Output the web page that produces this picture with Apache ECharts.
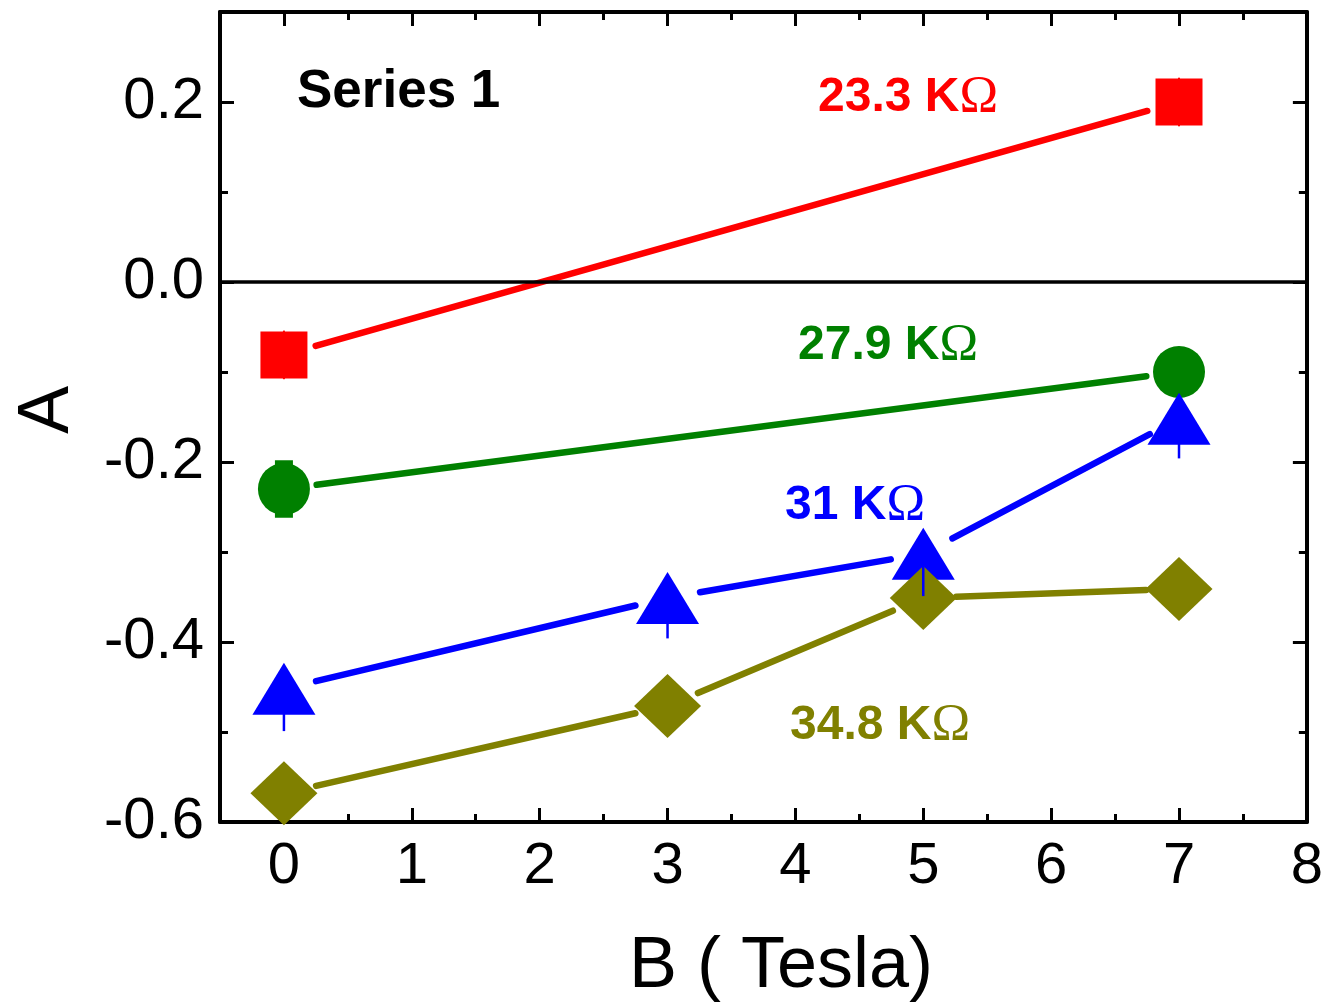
<!DOCTYPE html>
<html>
<head>
<meta charset="utf-8">
<script src="https://cdn.jsdelivr.net/npm/echarts@6/dist/echarts.min.js"></script>
<style>html,body{margin:0;padding:0;background:#fff}#c{width:1326px;height:1005px}</style>
</head>
<body>
<div id="c"></div>
<script>
// ---- data ----
const redX = [0, 7];
const redY = [-0.081, 0.200];
const redErr = [0.027, 0.027];
const greenX = [0, 7];
const greenY = [-0.230, -0.100];
const greenErr = [0.032, 0.025];
const blueX = [0, 3, 5, 7];
const blueY = [-0.452, -0.351, -0.302, -0.152];
const blueErrDown = [0.047, 0.045, 0.047, 0.044];
const oliveX = [0, 3, 5, 7];
const oliveY = [-0.568, -0.471, -0.351, -0.341];
const oliveErr = [0.02, 0.02, 0.02, 0.02];
const xTicks = [0, 1, 2, 3, 4, 5, 6, 7, 8];
const xMinorTicks = [0.5, 1.5, 2.5, 3.5, 4.5, 5.5, 6.5, 7.5];
const yTicks = [-0.6, -0.4, -0.2, 0.0, 0.2];
const yMinorTicks = [-0.5, -0.3, -0.1, 0.1];
const seriesLabels = ['23.3 K', '27.9 K', '31 K', '34.8 K'];
const panelLabel = 'Series 1';
const xTitle = 'B ( Tesla)';
const yTitle = 'A';

const RED = '#ff0000', GREEN = '#008000', BLUE = '#0000ff', OLIVE = '#808000';
const FONT = '"Liberation Sans", Arial, sans-serif';

function pts(xs, ys) { return xs.map((x, i) => [x, ys[i]]); }
function segs(xs, ys) {
  const out = [];
  for (let i = 1; i < xs.length; i++) out.push([xs[i - 1], ys[i - 1], xs[i], ys[i]]);
  return out;
}

function lineSeries(xs, ys, color) {
  return {
    type: 'custom', xAxisIndex: 0, yAxisIndex: 0, z: 2,
    encode: { x: [0, 2], y: [1, 3] },
    data: segs(xs, ys),
    renderItem: function (params, api) {
      const p0 = api.coord([api.value(0), api.value(1)]);
      const p1 = api.coord([api.value(2), api.value(3)]);
      const dx = p1[0] - p0[0], dy = p1[1] - p0[1];
      const len = Math.sqrt(dx * dx + dy * dy);
      const ux = dx / len, uy = dy / len, gap = 33;
      return {
        type: 'line',
        shape: { x1: p0[0] + ux * gap, y1: p0[1] + uy * gap, x2: p1[0] - ux * gap, y2: p1[1] - uy * gap },
        style: { stroke: color, lineWidth: 6.5, lineCap: 'round' }
      };
    }
  };
}
// error bar: [x, y, errUp, errDown]
function errSeries(xs, ys, up, down, color, w, z) {
  return {
    type: 'custom', xAxisIndex: 0, yAxisIndex: 0, z: z,
    encode: { x: 0, y: 1 },
    data: xs.map((x, i) => [x, ys[i], up ? up[i] : 0, down[i]]),
    renderItem: function (params, api) {
      const top = api.coord([api.value(0), api.value(1) + api.value(2)]);
      const bot = api.coord([api.value(0), api.value(1) - api.value(3)]);
      return {
        type: 'rect',
        shape: { x: top[0] - w / 2, y: top[1], width: w, height: bot[1] - top[1] },
        style: { fill: color }
      };
    }
  };
}
function markSeries(xs, ys, color, symbol, size, z) {
  return {
    type: 'scatter', xAxisIndex: 0, yAxisIndex: 0, z: z,
    data: pts(xs, ys), symbol: symbol, symbolSize: size,
    itemStyle: { color: color, opacity: 1 }, silent: true
  };
}

function xAx(pos, ticks, tickLen, labels, line) {
  return {
    type: 'value', position: pos, min: -0.5, max: 8,
    axisLine: { show: line, onZero: false, lineStyle: { color: '#000', width: 4 } },
    axisTick: { show: true, inside: true, length: tickLen, customValues: ticks, lineStyle: { color: '#000', width: 3 } },
    axisLabel: labels ? {
      show: true, customValues: ticks, margin: 16, color: '#000', fontSize: 58, fontFamily: FONT,
      formatter: v => String(Math.round(v))
    } : { show: false },
    splitLine: { show: false }
  };
}
function yAx(pos, ticks, tickLen, labels, line) {
  return {
    type: 'value', position: pos, min: -0.6, max: 0.3,
    axisLine: { show: line, onZero: false, lineStyle: { color: '#000', width: 4 } },
    axisTick: { show: true, inside: true, length: tickLen, customValues: ticks, lineStyle: { color: '#000', width: 3 } },
    axisLabel: labels ? {
      show: true, customValues: ticks, margin: 16, color: '#000', fontSize: 58, fontFamily: FONT,
      formatter: v => (Math.round(v * 10) / 10).toFixed(1).replace('-0.0', '0.0')
    } : { show: false },
    splitLine: { show: false }
  };
}

const chart = echarts.init(document.getElementById('c'), null, { renderer: 'canvas' });
const labelRich = (color) => ({
  a: { fontFamily: FONT, fontWeight: 'bold', fontSize: 48, fill: color },
  b: { fontFamily: '"Liberation Serif", serif', fontWeight: 'normal', fontSize: 52, fill: color }
});
function seriesText(x, y, txt, color) {
  return {
    type: 'text', x: x, y: y, z: 100,
    style: { text: '{a|' + txt + '}{b|Ω}', rich: labelRich(color), align: 'left', verticalAlign: 'middle' }
  };
}

chart.setOption({
  animation: false,
  backgroundColor: '#fff',
  grid: { left: 220, right: 16, top: 12, bottom: 183, containLabel: false },
  xAxis: [
    xAx('bottom', xTicks, 14, true, true),
    xAx('bottom', xMinorTicks, 8, false, false),
    xAx('top', xTicks, 14, false, true),
    xAx('top', xMinorTicks, 8, false, false)
  ],
  yAxis: [
    yAx('left', yTicks, 14, true, true),
    yAx('left', yMinorTicks, 8, false, false),
    yAx('right', yTicks, 14, false, true),
    yAx('right', yMinorTicks, 8, false, false)
  ],
  series: [
    {
      type: 'line', xAxisIndex: 0, yAxisIndex: 0, data: [], z: 1,
      markLine: {
        silent: true, symbol: ['none', 'none'], label: { show: false },
        lineStyle: { color: '#000', width: 3.5, type: 'solid' },
        data: [{ yAxis: 0 }]
      }
    },
    lineSeries(redX, redY, RED),
    lineSeries(greenX, greenY, GREEN),
    lineSeries(blueX, blueY, BLUE),
    lineSeries(oliveX, oliveY, OLIVE),
    errSeries(redX, redY, redErr, redErr, RED, 2, 3),
    errSeries(greenX, greenY, greenErr, greenErr, GREEN, 18, 3),
    markSeries(redX, redY, RED, 'rect', [47, 47], 4),
    markSeries(greenX, greenY, GREEN, 'circle', 52, 5),
    markSeries(blueX, blueY, BLUE, 'triangle', [63, 52], 6),
    markSeries(oliveX, oliveY, OLIVE, 'diamond', [67, 64], 7),
    errSeries(blueX, blueY, null, blueErrDown, BLUE, 2.5, 8),
    errSeries(oliveX, oliveY, oliveErr, oliveErr, OLIVE, 2, 3)
  ],
  graphic: [
    { type: 'text', x: 297, y: 92, z: 100,
      style: { text: panelLabel, font: 'bold 53px ' + FONT, fill: '#000', align: 'left', verticalAlign: 'middle' } },
    seriesText(818, 98, seriesLabels[0], RED),
    seriesText(798, 346, seriesLabels[1], GREEN),
    seriesText(785, 506, seriesLabels[2], BLUE),
    seriesText(790, 726, seriesLabels[3], OLIVE),
    { type: 'text', x: 781, y: 967, z: 100,
      style: { text: xTitle, font: '72px ' + FONT, fill: '#000', align: 'center', verticalAlign: 'middle' } },
    { type: 'text', x: 48, y: 410, rotation: Math.PI / 2, z: 100,
      style: { text: yTitle, font: '72px ' + FONT, fill: '#000', align: 'center', verticalAlign: 'middle' } }
  ]
});
</script>
</body>
</html>
